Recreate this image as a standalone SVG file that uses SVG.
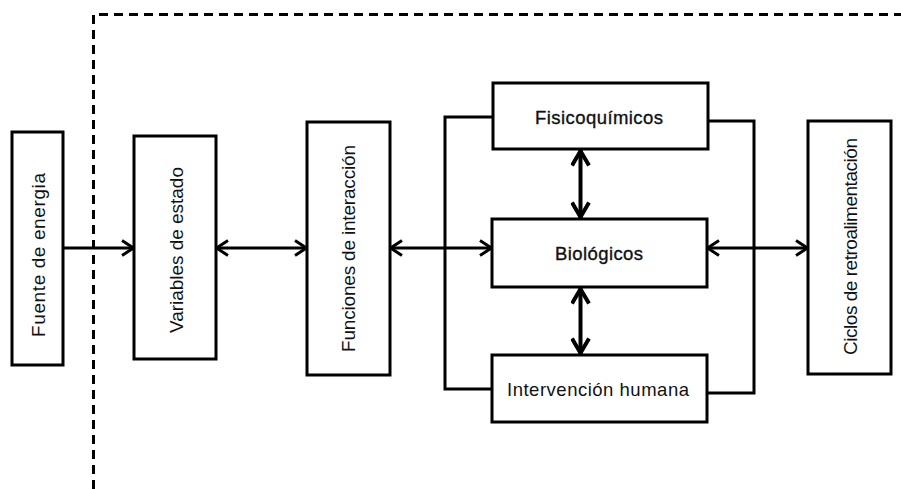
<svg xmlns="http://www.w3.org/2000/svg" width="901" height="489" viewBox="0 0 901 489">
<style>
.box{fill:#fff;stroke:#000;stroke-width:3}
.ln{fill:none;stroke:#000;stroke-width:3}
.ln4{fill:none;stroke:#000;stroke-width:4}
.dash{fill:none;stroke:#000;stroke-width:3;stroke-dasharray:9 6}
.t{font-family:"Liberation Sans",Arial,sans-serif;font-size:18.5px;fill:#111;text-anchor:middle}
.v{font-family:"Liberation Sans",Arial,sans-serif;font-size:19px;fill:#111;text-anchor:middle}
.b{stroke:#111;stroke-width:0.35}
</style>
<defs>
<marker id="ah" viewBox="0 0 14 18" refX="13" refY="9" markerWidth="14" markerHeight="18" markerUnits="userSpaceOnUse" orient="auto-start-reverse">
<path d="M1,1.5 L12.5,9 L1,16.5" fill="none" stroke="#000" stroke-width="3"/>
</marker>
<marker id="ah4" viewBox="0 0 18 20" refX="17" refY="10" markerWidth="18" markerHeight="20" markerUnits="userSpaceOnUse" orient="auto-start-reverse">
<path d="M1.5,1.5 L16,10 L1.5,18.5" fill="none" stroke="#000" stroke-width="4"/>
</marker>
</defs>
<rect width="901" height="489" fill="#fff"/>
<g id="boundary">
<path class="dash" d="M93.5,489 L93.5,14.5 L901,14.5"/>
</g>
<g id="connectors">
<path class="ln" d="M492,117 L445,117 L445,389 L492,389"/>
<path class="ln" d="M707,121 L754,121 L754,393 L707,393"/>
<line class="ln" x1="63" y1="248" x2="134" y2="248" marker-end="url(#ah)"/>
<line class="ln" x1="216" y1="248" x2="307" y2="248" marker-start="url(#ah)" marker-end="url(#ah)"/>
<line class="ln" x1="390" y1="248" x2="492" y2="248" marker-start="url(#ah)" marker-end="url(#ah)"/>
<line class="ln" x1="707" y1="248" x2="808" y2="248" marker-start="url(#ah)" marker-end="url(#ah)"/>
<line class="ln4" x1="580.5" y1="150" x2="580.5" y2="218" marker-start="url(#ah4)" marker-end="url(#ah4)"/>
<line class="ln4" x1="580.5" y1="288" x2="580.5" y2="354" marker-start="url(#ah4)" marker-end="url(#ah4)"/>
</g>
<g id="fuente">
<rect class="box" x="12" y="132" width="51" height="233"/>
<text class="v" transform="translate(44.5,255) rotate(-90)" textLength="164" lengthAdjust="spacing">Fuente de energia</text>
</g>
<g id="variables">
<rect class="box" x="134" y="136" width="82" height="223"/>
<text class="v" transform="translate(183,250) rotate(-90)" textLength="166" lengthAdjust="spacing">Variables de estado</text>
</g>
<g id="funciones">
<rect class="box" x="307" y="122" width="83" height="253"/>
<text class="v" transform="translate(355,248.5) rotate(-90)" textLength="207" lengthAdjust="spacing">Funciones de interacción</text>
</g>
<g id="fisicoquimicos">
<rect class="box" x="493" y="83" width="215" height="66"/>
<text class="t b" x="599" y="124" textLength="128" lengthAdjust="spacing">Fisicoquímicos</text>
</g>
<g id="biologicos">
<rect class="box" x="492" y="219" width="215" height="68"/>
<text class="t b" x="599" y="260" textLength="88" lengthAdjust="spacing">Biológicos</text>
</g>
<g id="intervencion">
<rect class="box" x="492" y="355" width="215" height="67"/>
<text class="t" x="598" y="396" textLength="182" lengthAdjust="spacing">Intervención humana</text>
</g>
<g id="ciclos">
<rect class="box" x="808" y="121" width="83" height="253"/>
<text class="v" transform="translate(857,246.5) rotate(-90)" textLength="217" lengthAdjust="spacing">Ciclos de retroalimentación</text>
</g>
</svg>
